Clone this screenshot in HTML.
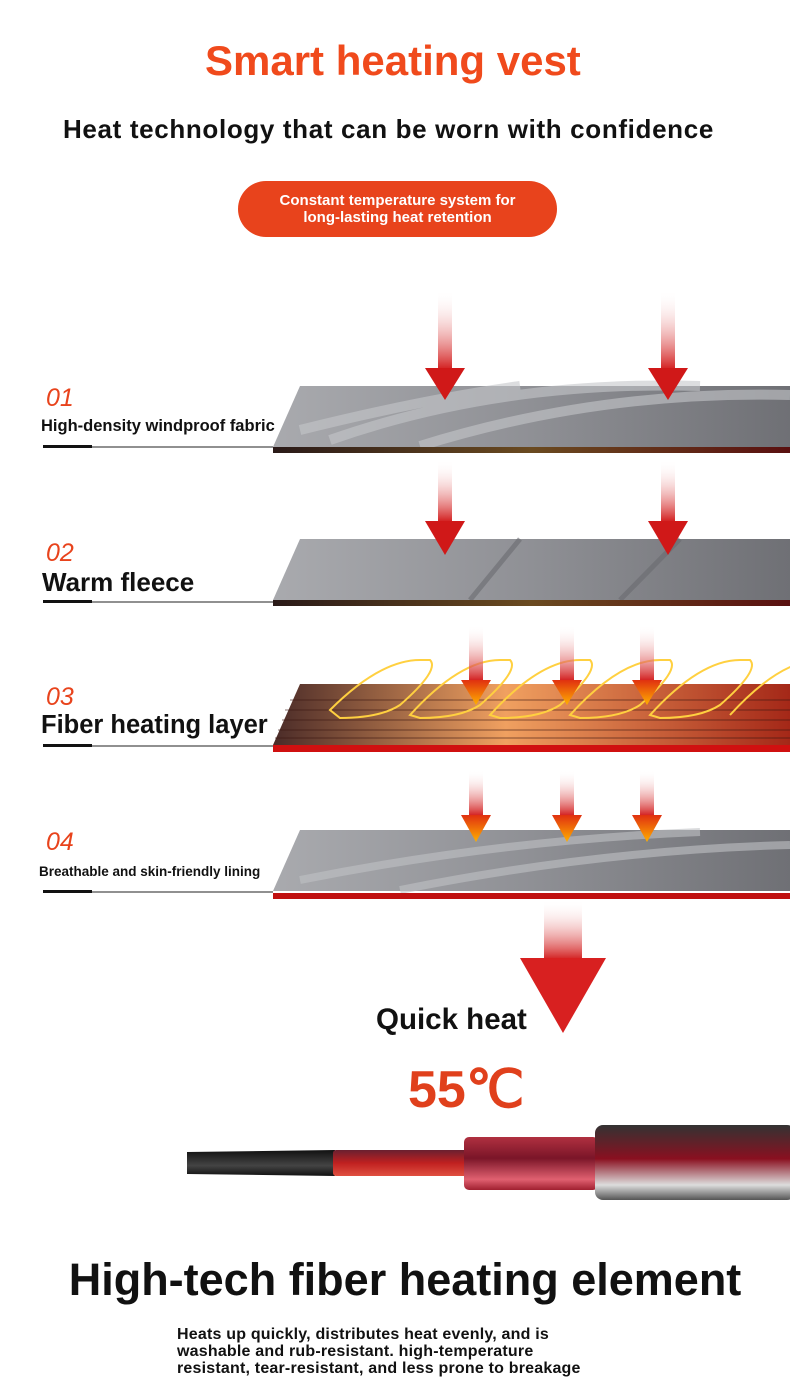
<!DOCTYPE html>
<html><head><meta charset="utf-8"><style>
body{margin:0;width:790px;height:1398px;position:relative;background:#fff;font-family:"Liberation Sans",sans-serif;overflow:hidden}
.t{position:absolute;white-space:nowrap;font-weight:bold;color:#111}
.n{position:absolute;font-style:italic;color:#e8431c;font-size:25px;left:46px}
</style></head><body>
<div class="t" style="left:205px;width:375px;text-align:center;top:37px;font-size:42px;color:#f04a1c">Smart heating vest</div>
<div class="t" style="left:63px;top:114px;font-size:26px;letter-spacing:0.65px">Heat technology that can be worn with confidence</div>
<div style="position:absolute;left:238px;top:181px;width:319px;height:56px;border-radius:28px;background:#e8431c;color:#fff;font-weight:bold;font-size:15px;text-align:center;line-height:17px;display:flex;align-items:center;justify-content:center">Constant temperature system for<br>long-lasting heat retention</div>

<svg style="position:absolute;left:0;top:0" width="790" height="1398">
<defs>
<linearGradient id="sh" x1="0" y1="0" x2="0" y2="1"><stop offset="0" stop-color="#fff" stop-opacity="0"/><stop offset="1" stop-color="#d21c1c"/></linearGradient>
<linearGradient id="gr" x1="0" y1="0" x2="1" y2="0"><stop offset="0" stop-color="#a9aaae"/><stop offset="0.5" stop-color="#8f9095"/><stop offset="1" stop-color="#6f7075"/></linearGradient>
<linearGradient id="ht" x1="0" y1="0" x2="1" y2="0"><stop offset="0" stop-color="#4a2b28"/><stop offset="0.45" stop-color="#f0a060"/><stop offset="1" stop-color="#a42818"/></linearGradient>
<linearGradient id="st" x1="0" y1="0" x2="1" y2="0"><stop offset="0" stop-color="#2a1a18"/><stop offset="0.5" stop-color="#6a4a20"/><stop offset="1" stop-color="#5a1010"/></linearGradient>
<linearGradient id="oh" x1="0" y1="0" x2="0" y2="1"><stop offset="0" stop-color="#e03010"/><stop offset="1" stop-color="#ffb000"/></linearGradient>
<linearGradient id="cb" x1="0" y1="0" x2="0" y2="1"><stop offset="0" stop-color="#333"/><stop offset="0.45" stop-color="#8a1020"/><stop offset="0.8" stop-color="#ddd"/><stop offset="1" stop-color="#555"/></linearGradient>
<linearGradient id="cp" x1="0" y1="0" x2="0" y2="1"><stop offset="0" stop-color="#b03040"/><stop offset="0.4" stop-color="#7a1528"/><stop offset="0.8" stop-color="#e06070"/><stop offset="1" stop-color="#a02030"/></linearGradient>
<linearGradient id="cr" x1="0" y1="0" x2="0" y2="1"><stop offset="0" stop-color="#6a2030"/><stop offset="0.5" stop-color="#c02020"/><stop offset="1" stop-color="#e05040"/></linearGradient>
<linearGradient id="ck" x1="0" y1="0" x2="0" y2="1"><stop offset="0" stop-color="#111"/><stop offset="0.6" stop-color="#444"/><stop offset="1" stop-color="#111"/></linearGradient>
</defs>
<polygon points="300,386 790,386 790,447 273,447" fill="url(#gr)"/>
<path d="M330,440 Q500,380 700,386 M420,446 Q600,390 790,395 M300,430 Q420,400 520,386" stroke="#c5c6ca" stroke-width="10" fill="none" opacity=".6"/>
<rect x="273" y="447" width="517" height="6" fill="url(#st)"/>
<polygon points="300,539 790,539 790,600 273,600" fill="url(#gr)"/>
<path d="M470,600 L520,539 M620,600 L680,539" stroke="#6a6b70" stroke-width="5" opacity=".6"/>
<rect x="273" y="600" width="517" height="6" fill="url(#st)"/>
<polygon points="300,684 790,684 790,745 273,745" fill="url(#ht)"/>
<g stroke="#3a1510" stroke-width="1" opacity=".6">
<line x1="290" y1="700" x2="790" y2="700"/><line x1="285" y1="710" x2="790" y2="710"/><line x1="282" y1="720" x2="790" y2="720"/><line x1="278" y1="730" x2="790" y2="730"/><line x1="275" y1="738" x2="790" y2="738"/></g>
<g fill="none" stroke="#ffd040" stroke-width="2">
<path d="M330,710 Q380,660 420,660 L430,660 Q440,670 400,705 Q380,718 340,718 Z"/>
<path d="M410,715 Q460,660 500,660 L510,660 Q520,670 480,705 Q460,718 420,718 Z"/>
<path d="M490,715 Q540,660 580,660 L590,660 Q600,670 560,705 Q540,718 500,718 Z"/>
<path d="M570,715 Q620,660 660,660 L670,660 Q680,670 640,705 Q620,718 580,718 Z"/>
<path d="M650,715 Q700,660 740,660 L750,660 Q760,670 720,705 Q700,718 660,718 Z"/>
<path d="M730,715 Q780,660 820,660"/></g>
<rect x="273" y="745" width="517" height="7" fill="#d01010"/>
<polygon points="300,830 790,830 790,891 273,891" fill="url(#gr)"/>
<path d="M300,880 Q500,840 700,832 M400,890 Q600,850 790,845" stroke="#c0c1c5" stroke-width="8" fill="none" opacity=".6"/>
<rect x="273" y="893" width="517" height="6" fill="#c01010"/>
<g stroke="#222"><line x1="43" y1="447" x2="273" y2="447" stroke-width="1"/><line x1="43" y1="602" x2="273" y2="602"/><line x1="43" y1="746" x2="273" y2="746"/><line x1="43" y1="892" x2="273" y2="892"/></g>
<g fill="#111"><rect x="43" y="445" width="49" height="3"/><rect x="43" y="600" width="49" height="3"/><rect x="43" y="744" width="49" height="3"/><rect x="43" y="890" width="49" height="3"/></g>
<g>
<rect x="438" y="290" width="14" height="80" fill="url(#sh)"/><polygon points="425,368 465,368 445,400" fill="#d01818"/>
<rect x="661" y="290" width="14" height="80" fill="url(#sh)"/><polygon points="648,368 688,368 668,400" fill="#d01818"/>
<rect x="438" y="460" width="14" height="62" fill="url(#sh)"/><polygon points="425,521 465,521 445,555" fill="#d01818"/>
<rect x="661" y="460" width="14" height="62" fill="url(#sh)"/><polygon points="648,521 688,521 668,555" fill="#d01818"/>
<rect x="469" y="625" width="14" height="56" fill="url(#sh)"/><polygon points="461,680 491,680 476,705" fill="url(#oh)"/>
<rect x="560" y="625" width="14" height="56" fill="url(#sh)"/><polygon points="552,680 582,680 567,705" fill="url(#oh)"/>
<rect x="640" y="625" width="14" height="56" fill="url(#sh)"/><polygon points="632,680 662,680 647,705" fill="url(#oh)"/>
<rect x="469" y="770" width="14" height="46" fill="url(#sh)"/><polygon points="461,815 491,815 476,842" fill="url(#oh)"/>
<rect x="560" y="770" width="14" height="46" fill="url(#sh)"/><polygon points="552,815 582,815 567,842" fill="url(#oh)"/>
<rect x="640" y="770" width="14" height="46" fill="url(#sh)"/><polygon points="632,815 662,815 647,842" fill="url(#oh)"/>
<rect x="544" y="900" width="38" height="60" fill="url(#sh)"/><polygon points="520,958 606,958 563,1033" fill="#d82020"/>
</g>
<path d="M187,1152 L335,1150 L335,1176 L187,1174 Z" fill="url(#ck)"/>
<rect x="333" y="1150" width="134" height="26" rx="3" fill="url(#cr)"/>
<rect x="464" y="1137" width="134" height="53" rx="5" fill="url(#cp)"/>
<rect x="595" y="1125" width="200" height="75" rx="8" fill="url(#cb)"/>
</svg>

<div class="n" style="top:384px">01</div>
<div class="t" style="left:41px;top:417px;font-size:16.5px">High-density windproof fabric</div>
<div class="n" style="top:539px">02</div>
<div class="t" style="left:42px;top:567px;font-size:26px">Warm fleece</div>
<div class="n" style="top:683px">03</div>
<div class="t" style="left:41px;top:711px;font-size:25.5px">Fiber heating layer</div>
<div class="n" style="top:828px">04</div>
<div class="t" style="left:39px;top:864px;font-size:13.5px">Breathable and skin-friendly lining</div>
<div class="t" style="left:376px;top:1003px;font-size:29.5px">Quick heat</div>
<div class="t" style="left:408px;top:1060px;font-size:52px;color:#e0401c">55℃</div>
<div class="t" style="left:0;width:810px;text-align:center;top:1254px;font-size:45px">High-tech fiber heating element</div>
<div class="t" style="left:177px;top:1326px;font-size:16px;line-height:17px;letter-spacing:0.2px">Heats up quickly, distributes heat evenly, and is<br>washable and rub-resistant. high-temperature<br>resistant, tear-resistant, and less prone to breakage</div>
</body></html>
